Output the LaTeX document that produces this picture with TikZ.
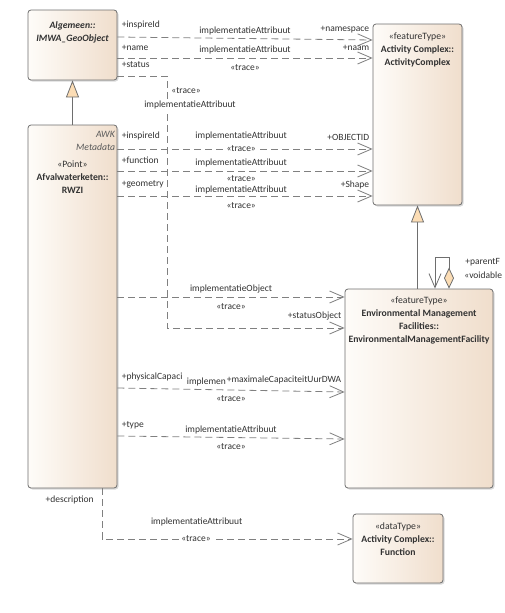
\documentclass[tikz,border=0pt]{standalone}
\usepackage{fontspec}
\setmainfont{Carlito}
\usetikzlibrary{arrows.meta, positioning, calc, shadows}
\definecolor{boxleft}{RGB}{254,252,249}
\definecolor{boxright}{RGB}{240,222,204}
\definecolor{edgegray}{RGB}{110,110,110}
\definecolor{linegray}{RGB}{128,128,128}
\definecolor{txtgray}{RGB}{50,50,50}
\definecolor{inhfill}{RGB}{252,221,181}

\begin{document}
\begin{tikzpicture}[
    x=1pt, y=-1pt,
    font=\fontsize{9.7}{13}\selectfont,
    box/.style={draw=edgegray, line width=0.8pt, rounded corners=3pt, left color=boxleft, right color=boxright, drop shadow={shadow xshift=1.5pt, shadow yshift=-1.5pt, opacity=0.3}, inner sep=0pt},
    boxtext/.style={anchor=north, align=center, inner sep=0pt, text=txtgray, font=\fontsize{9.7}{13}\selectfont},
    lbl/.style={inner sep=1pt, text=txtgray, font=\fontsize{9.5}{10}\selectfont},
    lblw/.style={lbl, fill=white},
    dep/.style={draw=linegray, line width=0.8pt, dash pattern=on 7pt off 4pt, -{Straight Barb[length=14pt, width=12pt, line width=0.8pt]}},
    inh/.style={draw=edgegray, line width=0.8pt, -{Triangle[open, length=17pt, width=13pt, line width=0.8pt, fill=inhfill]}}
]
    \useasboundingbox (0,0) rectangle (505,613);

    % Classes
    \node[box, minimum width=89pt, minimum height=70pt,
        label={[boxtext, yshift=-12pt]north:{\textbf{\textit{Algemeen::}}\\\textbf{\textit{IMWA\_GeoObject}}}}] (imwa) at (72.5,45) {};
    \node[box, minimum width=89pt, minimum height=181pt,
        label={[boxtext, yshift=-9pt]north:{«featureType»\\\textbf{Activity Complex::}\\\textbf{ActivityComplex}}}] (ac) at (417.5,114.5) {};
    \node[box, minimum width=89pt, minimum height=363pt,
        label={[boxtext, anchor=north east, align=right, xshift=-2pt, yshift=-6pt, text=black!65]north east:{\textit{AWK}\\\textit{Metadata}}},
        label={[boxtext, yshift=-36pt]north:{«Point»\\\textbf{Afvalwaterketen::}\\\textbf{RWZI}}}] (rwzi) at (72.5,306.5) {};
    \node[box, minimum width=148pt, minimum height=199pt,
        label={[boxtext, yshift=-8pt]north:{«featureType»\\\textbf{Environmental Management}\\\textbf{Facilities::}\\\textbf{EnvironmentalManagementFacility}}}] (env) at (419,388.5) {};
    \node[box, minimum width=90pt, minimum height=69pt,
        label={[boxtext, yshift=-9pt]north:{«dataType»\\\textbf{Activity Complex::}\\\textbf{Function}}}] (fn) at (398,548.5) {};

    % Generalizations
    \draw[inh] (rwzi.north) -- (imwa.south);
    \draw[inh] (env.north -| ac.south) -- (ac.south);

    % Self association
    \draw[draw=edgegray, line width=0.8pt, {Diamond[open, length=21pt, width=10pt, line width=0.8pt, fill=inhfill]}-{Straight Barb[length=14pt, width=12pt, line width=0.8pt]}]
        (env.north -| 449,0) node[lbl, above right=21pt and 15pt] {+parentF}
        node[lbl, above right=9pt and 14pt] {«voidable}
        -- (449,257) -- (435,257) -- (env.north -| 435,0);

    % Traces to ActivityComplex
    \draw[dep] (imwa.east |- 0,37) -- node[lbl, above=2.5pt] {implementatieAttribuut}
        node[lbl, at start, above right=7pt and 3pt] {+inspireId}
        node[lbl, at end, above left=6pt and 2pt] {+namespace} (ac.west |- 0,40);
    \draw[dep] (imwa.east |- 0,58) -- node[lbl, above=2.5pt] {implementatieAttribuut}
        node[lbl, below=5pt] {«trace»}
        node[lbl, at start, above right=6pt and 3pt] {+name}
        node[lbl, at end, above left=6pt and 2pt] {+naam} (ac.west |- 0,58);
    \draw[dep] (rwzi.east |- 0,149) -- node[lbl, pos=0.485, above=8pt] {implementatieAttribuut}
        node[lblw, pos=0.485] {«trace»}
        node[lbl, at start, above right=8pt and 3pt] {+inspireId}
        node[lbl, at end, above left=7pt and 2pt] {+OBJECTID} (ac.west |- 0,149);
    \draw[dep] (rwzi.east |- 0,171) -- node[lbl, pos=0.485, above=2.5pt] {implementatieAttribuut}
        node[lbl, pos=0.485, below=3pt] {«trace»}
        node[lbl, at start, above right=6pt and 3pt] {+function} (ac.west |- 0,171);
    \draw[dep] (rwzi.east |- 0,196) -- node[lblw, pos=0.485, above=1pt] {implementatieAttribuut}
        node[lbl, pos=0.485, below=5pt] {«trace»}
        node[lbl, at start, above right=6pt and 3pt] {+geometry}
        node[lbl, at end, above left=6pt and 2pt] {+Shape} (ac.west |- 0,196);

    % Traces to EnvironmentalManagementFacility
    \draw[dep] (imwa.east |- 0,76) node[lbl, above right=7pt and 3pt] {+status}
        -- (167,76)
        -- node[lbl, pos=0.056, right=3pt] {«trace»}
        node[lblw, pos=0.115, xshift=23pt] {implementatieAttribuut} (167,328)
        -- node[lbl, at end, above left=6pt and 2pt] {+statusObject} (env.west |- 0,328);
    \draw[dep] (rwzi.east |- 0,297) -- node[lbl, above=2pt] {implementatieObject}
        node[lbl, below=5pt] {«trace»} (env.west |- 0,297);
    \draw[dep] (rwzi.east |- 0,388) -- node[lbl, at start, above right=6pt and 3pt] {+physicalCapaci}
        node[lbl, pos=0.3, anchor=south west, yshift=2pt] {implemen}
        node[lbl, at end, above left=7pt and 2pt] {+maximaleCapaciteitUurDWA}
        node[lbl, below=4pt] {«trace»} (env.west |- 0,392);
    \draw[dep] (rwzi.east |- 0,436) -- node[lbl, above=2.5pt] {implementatieAttribuut}
        node[lbl, below=4.5pt] {«trace»}
        node[lbl, at start, above right=6pt and 3pt] {+type} (env.west |- 0,439);

    % Trace to Function
    \draw[dep] (rwzi.south -| 102,0) node[lbl, below left=6pt and 7pt] {+description}
        -- (102,539)
        -- node[lbl, pos=0.378, above=12pt] {implementatieAttribuut}
        node[lblw, pos=0.375] {«trace»} (fn.west |- 0,539);
\end{tikzpicture}
\end{document}
